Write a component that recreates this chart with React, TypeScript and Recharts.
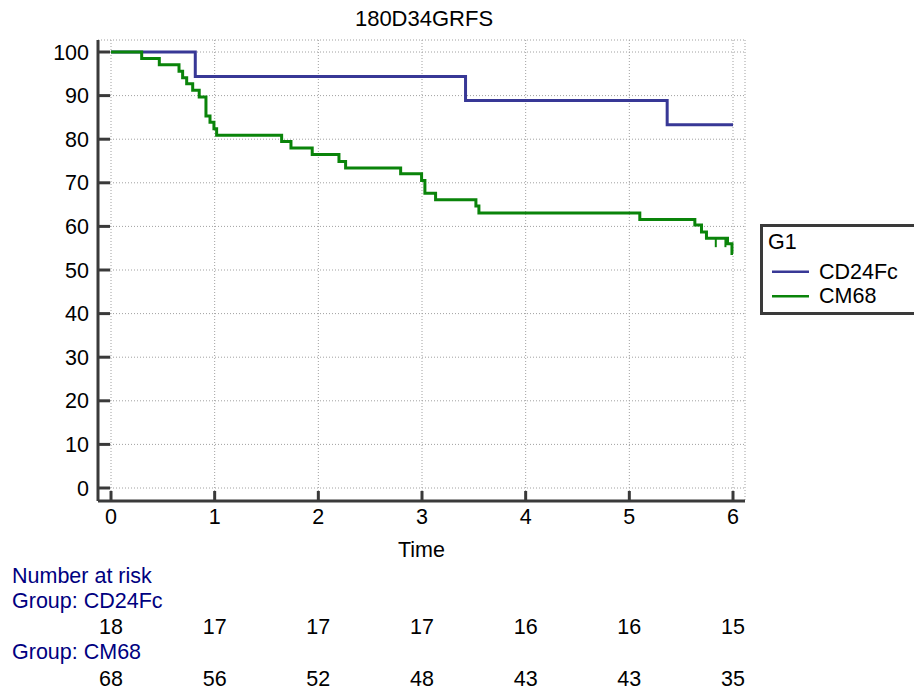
import { ComposedChart, Line, Scatter, XAxis, YAxis, CartesianGrid, Legend } from 'recharts';

// Kaplan-Meier steps (time in years, survival %)
const cd24fcTimes = [0, 0.813, 3.42, 5.365, 6];
const cd24fcSurv = [100, 94.4, 88.9, 83.3, 83.3];

const cm68Times = [
  0, 0.296, 0.466, 0.656, 0.691, 0.73, 0.788, 0.851, 0.916, 0.955, 0.993, 1.019,
  1.646, 1.736, 1.941, 2.199, 2.263, 2.794, 2.996, 3.028, 3.131, 3.52, 3.549,
  5.101, 5.632, 5.696, 5.744, 5.947, 5.99, 6,
];
const cm68Surv = [
  100, 98.5, 97.1, 95.6, 94.1, 92.7, 91.2, 89.7, 85.3, 83.9, 82.4, 80.9,
  79.5, 78.0, 76.5, 74.9, 73.4, 72.1, 70.5, 67.6, 66.1, 64.7, 63.1,
  61.6, 60.3, 58.7, 57.3, 56.0, 53.8, 53.8,
];

// censored observations (CM68)
const censorTimes = [5.834, 5.927];
const censorSurv = [57.3, 57.3];

const xTicks = [0, 1, 2, 3, 4, 5, 6];
const yTicks = [0, 10, 20, 30, 40, 50, 60, 70, 80, 90, 100];

const riskCD24Fc = [18, 17, 17, 17, 16, 16, 15];
const riskCM68 = [68, 56, 52, 48, 43, 43, 35];

const BLUE = '#383896';
const GREEN = '#0a840a';
const AXIS = '#3a3a3a';
const NAVY = '#000080';
const FONT = 21.5;

const cd24fcData = cd24fcTimes.map((t, i) => ({ t, s: cd24fcSurv[i] }));
const cm68Data = cm68Times.map((t, i) => ({ t, s: cm68Surv[i] }));
const censorData = censorTimes.map((t, i) => ({ t, s: censorSurv[i] }));
// anchors so the number-at-risk axes have data of their own
const riskAnchor = xTicks.map((t) => ({ t, s: 0 }));

const xPad = { left: 13, right: 12 };

function CensorTick(props: any) {
  const { cx, cy } = props;
  return <line x1={cx} x2={cx} y1={cy} y2={cy + 9} stroke={GREEN} strokeWidth={2} />;
}

function Nothing() {
  return <g />;
}

function KMLegend({ payload }: any) {
  const items = (payload || []).filter((p: any) => p.value === 'CD24Fc' || p.value === 'CM68');
  return (
    <div style={{ width: 170, height: 91, border: `3px solid ${AXIS}`, boxSizing: 'border-box', background: '#fff' }}>
      <svg width={164} height={85} style={{ display: 'block' }}>
        <text x={5} y={22} fontSize={FONT} fill="#000">G1</text>
        {items.map((p: any, i: number) => (
          <g key={p.value}>
            <line x1={9} x2={46} y1={44.7 + i * 24.5} y2={44.7 + i * 24.5} stroke={p.color} strokeWidth={2.5} />
            <text x={56} y={52.3 + i * 24} fontSize={FONT} fill="#000">{p.value}</text>
          </g>
        ))}
      </svg>
    </div>
  );
}

export default function App() {
  return (
    <div style={{ position: 'absolute', left: 0, top: 0, width: 914, height: 692, overflow: 'hidden', fontFamily: '"Liberation Sans", Arial, sans-serif', background: '#fff' }}>
      <ComposedChart width={914} height={692} margin={{ top: 40, right: 169, left: 0, bottom: 4 }}>
        <CartesianGrid stroke="#a0a0a0" strokeDasharray="1 2" />
        <XAxis
          type="number"
          dataKey="t"
          domain={[0, 6]}
          ticks={xTicks}
          padding={xPad}
          height={62}
          tickSize={-10}
          tickMargin={18}
          tick={{ fontSize: FONT, fill: '#000' }}
          axisLine={{ stroke: AXIS, strokeWidth: 3 }}
          tickLine={{ stroke: AXIS, strokeWidth: 3 }}
          label={{ value: 'Time', position: 'insideBottom', offset: 6, fontSize: FONT, fill: '#000' }}
        />
        <XAxis
          xAxisId="r1"
          type="number"
          dataKey="t"
          domain={[0, 6]}
          ticks={xTicks}
          padding={xPad}
          height={75}
          tickSize={0}
          tickMargin={56}
          axisLine={false}
          tickLine={false}
          tick={{ fontSize: FONT, fill: '#000' }}
          tickFormatter={(v: number) => String(riskCD24Fc[xTicks.indexOf(v)])}
        />
        <XAxis
          xAxisId="r2"
          type="number"
          dataKey="t"
          domain={[0, 6]}
          ticks={xTicks}
          padding={xPad}
          height={50}
          tickSize={0}
          tickMargin={33}
          axisLine={false}
          tickLine={false}
          tick={{ fontSize: FONT, fill: '#000' }}
          tickFormatter={(v: number) => String(riskCM68[xTicks.indexOf(v)])}
        />
        <YAxis
          type="number"
          domain={[0, 100]}
          ticks={yTicks}
          padding={{ top: 12, bottom: 13 }}
          width={98}
          tickSize={-12}
          tickMargin={21}
          tick={{ fontSize: FONT, fill: '#000' }}
          axisLine={{ stroke: AXIS, strokeWidth: 3 }}
          tickLine={{ stroke: AXIS, strokeWidth: 3 }}
        />
        <Legend
          layout="vertical"
          align="center"
          verticalAlign="middle"
          wrapperStyle={{ left: 760, top: 224, width: 170 }}
          content={<KMLegend />}
        />
        <Line data={cd24fcData} dataKey="s" name="CD24Fc" type="stepAfter" stroke={BLUE} strokeWidth={3} dot={false} isAnimationActive={false} />
        <Line data={cm68Data} dataKey="s" name="CM68" type="stepAfter" stroke={GREEN} strokeWidth={3} dot={false} isAnimationActive={false} />
        <Scatter data={censorData} dataKey="s" name="censored" legendType="none" fill={GREEN} shape={<CensorTick />} isAnimationActive={false} />
        <Scatter xAxisId="r1" data={riskAnchor} dataKey="s" name="risk1" legendType="none" shape={<Nothing />} isAnimationActive={false} />
        <Scatter xAxisId="r2" data={riskAnchor} dataKey="s" name="risk2" legendType="none" shape={<Nothing />} isAnimationActive={false} />
      </ComposedChart>
      <svg width={914} height={692} style={{ position: 'absolute', left: 0, top: 0, pointerEvents: 'none' }}>
        <text x={424} y={26} textAnchor="middle" fontSize={22} fill="#000">180D34GRFS</text>
        <text x={12} y={582.7} fontSize={FONT} fill={NAVY}>Number at risk</text>
        <text x={12} y={607.7} fontSize={FONT} fill={NAVY}>Group: CD24Fc</text>
        <text x={12} y={659.3} fontSize={FONT} fill={NAVY}>Group: CM68</text>
      </svg>
    </div>
  );
}
